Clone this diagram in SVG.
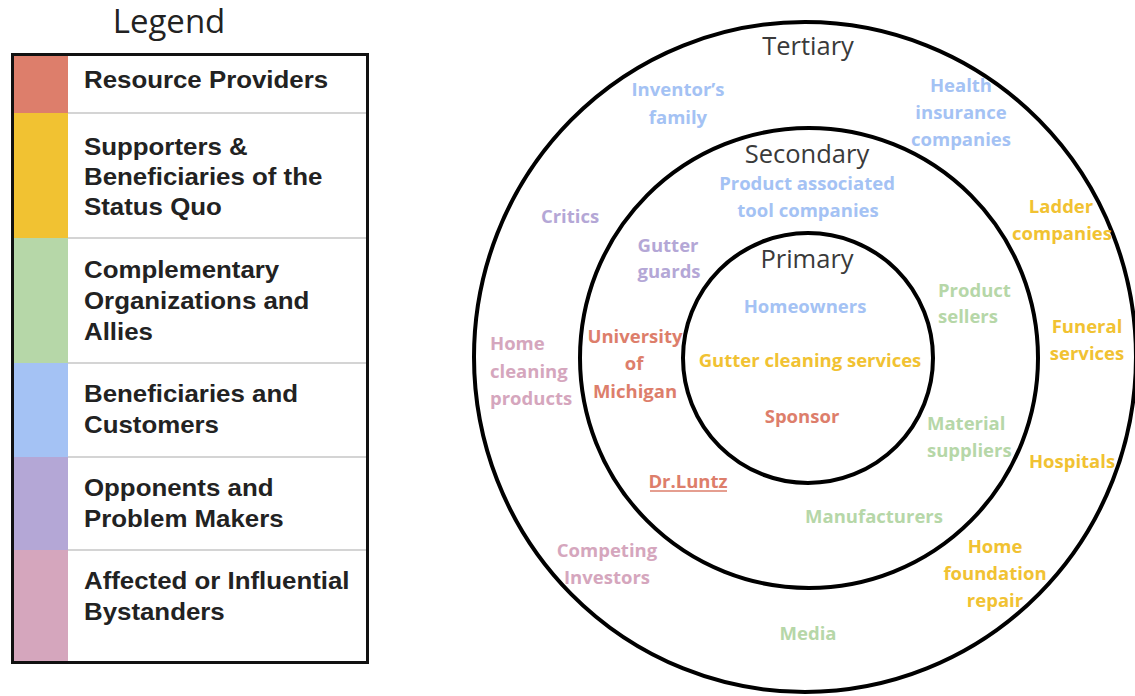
<svg xmlns="http://www.w3.org/2000/svg" width="1135" height="696" viewBox="0 0 1135 696">
  <style>
    .legend-title { font-family: "Open Sans", "Liberation Sans", sans-serif; font-size: 33px; fill: #222; }
    .legend-text { font-family: "Liberation Sans", Arial, sans-serif; font-weight: bold; font-size: 23.5px; fill: #222; }
    .divider { stroke: #d4d4d4; stroke-width: 2; }
    .ring { fill: none; stroke: #000; stroke-width: 4; }
    .ring-title { font-family: "Open Sans", "Liberation Sans", sans-serif; font-size: 25.5px; fill: #3a3a3a; text-anchor: middle; }
    .lbl { font-family: "Open Sans", "Liberation Sans", sans-serif; font-weight: bold; font-size: 18.5px; text-anchor: middle; }
    .left { text-anchor: start; }
    .red { fill: #dd7e6b; }
    .yellow { fill: #f1c232; }
    .green { fill: #b6d7a8; }
    .blue { fill: #a4c2f4; }
    .purple { fill: #b4a7d6; }
    .pink { fill: #d5a6bd; }
  </style>

  <rect width="1135" height="696" fill="#fff"/>

  <!-- Legend -->
  <g id="legend">
    <text class="legend-title" x="169" y="33" text-anchor="middle">Legend</text>
    <rect x="14" y="55" width="54" height="58" fill="#dd7e6b"/>
    <rect x="14" y="113" width="54" height="125" fill="#f1c232"/>
    <rect x="14" y="238" width="54" height="125" fill="#b6d7a8"/>
    <rect x="14" y="363" width="54" height="94" fill="#a4c2f4"/>
    <rect x="14" y="457" width="54" height="93" fill="#b4a7d6"/>
    <rect x="14" y="550" width="54" height="112" fill="#d5a6bd"/>
    <line class="divider" x1="68" y1="113" x2="366" y2="113"/>
    <line class="divider" x1="68" y1="238" x2="366" y2="238"/>
    <line class="divider" x1="68" y1="363" x2="366" y2="363"/>
    <line class="divider" x1="68" y1="457" x2="366" y2="457"/>
    <line class="divider" x1="68" y1="550" x2="366" y2="550"/>
    <rect x="12.5" y="54.5" width="355" height="608" fill="none" stroke="#111" stroke-width="3"/>
    <g transform="translate(84 0) scale(1.1 1)">
      <text class="legend-text" x="0" y="88">Resource Providers</text>
      <text class="legend-text" x="0" y="155">Supporters &amp;</text>
      <text class="legend-text" x="0" y="185">Beneficiaries of the</text>
      <text class="legend-text" x="0" y="215">Status Quo</text>
      <text class="legend-text" x="0" y="278">Complementary</text>
      <text class="legend-text" x="0" y="309">Organizations and</text>
      <text class="legend-text" x="0" y="340">Allies</text>
      <text class="legend-text" x="0" y="402">Beneficiaries and</text>
      <text class="legend-text" x="0" y="433">Customers</text>
      <text class="legend-text" x="0" y="496">Opponents and</text>
      <text class="legend-text" x="0" y="527">Problem Makers</text>
      <text class="legend-text" x="0" y="589">Affected or Influential</text>
      <text class="legend-text" x="0" y="620">Bystanders</text>
    </g>
  </g>

  <!-- Concentric stakeholder rings -->
  <g id="rings">
    <ellipse id="ring-tertiary" class="ring" cx="805" cy="357" rx="331" ry="335"/>
    <ellipse id="ring-secondary" class="ring" cx="809" cy="358" rx="229" ry="230"/>
    <ellipse id="ring-primary" class="ring" cx="808" cy="358" rx="125" ry="125"/>
    <text class="ring-title" x="808" y="55">Tertiary</text>
    <text class="ring-title" x="807" y="163">Secondary</text>
    <text class="ring-title" x="807" y="268">Primary</text>
  </g>

  <!-- Tertiary ring stakeholders -->
  <g id="inventors-family"><text class="lbl blue" x="678" y="96">Inventor’s<tspan x="678" dy="28">family</tspan></text></g>
  <g id="health-insurance"><text class="lbl blue" x="961" y="92">Health<tspan x="961" dy="27">insurance</tspan><tspan x="961" dy="27">companies</tspan></text></g>
  <g id="critics"><text class="lbl purple" x="570" y="223">Critics</text></g>
  <g id="ladder-companies"><text class="lbl yellow" x="1061" y="213">Ladder<tspan x="1062" dy="27">companies</tspan></text></g>
  <g id="funeral-services"><text class="lbl yellow" x="1087" y="333">Funeral<tspan x="1087" dy="27">services</tspan></text></g>
  <g id="home-cleaning"><text class="lbl pink left" x="490" y="350">Home<tspan x="490" dy="28">cleaning</tspan><tspan x="490" dy="27">products</tspan></text></g>
  <g id="hospitals"><text class="lbl yellow" x="1072" y="468">Hospitals</text></g>
  <g id="home-foundation"><text class="lbl yellow" x="995" y="553">Home<tspan x="995" dy="27">foundation</tspan><tspan x="995" dy="27">repair</tspan></text></g>
  <g id="competing-investors"><text class="lbl pink" x="607" y="557">Competing<tspan x="607" dy="27">Investors</tspan></text></g>
  <g id="media"><text class="lbl green" x="808" y="640">Media</text></g>

  <!-- Secondary ring stakeholders -->
  <g id="tool-companies"><text class="lbl blue" x="807" y="190">Product associated<tspan x="808" dy="27">tool companies</tspan></text></g>
  <g id="gutter-guards"><text class="lbl purple" x="668" y="252">Gutter<tspan x="669" dy="26">guards</tspan></text></g>
  <g id="product-sellers"><text class="lbl green left" x="938" y="297">Product<tspan x="938" dy="26">sellers</tspan></text></g>
  <g id="university"><text class="lbl red" x="635" y="343">University<tspan x="634" dy="27">of</tspan><tspan x="635" dy="28">Michigan</tspan></text></g>
  <g id="material-suppliers"><text class="lbl green left" x="927" y="430">Material<tspan x="927" dy="27">suppliers</tspan></text></g>
  <g id="dr-luntz">
    <text class="lbl red" x="688" y="488">Dr.Luntz</text>
    <line x1="650" y1="491" x2="727" y2="491" stroke="#dd7e6b" stroke-width="1.5"/>
  </g>
  <g id="manufacturers"><text class="lbl green" x="874" y="523">Manufacturers</text></g>

  <!-- Primary ring stakeholders -->
  <g id="homeowners"><text class="lbl blue" x="805" y="313">Homeowners</text></g>
  <g id="gutter-cleaning"><text class="lbl yellow" x="810" y="367">Gutter cleaning services</text></g>
  <g id="sponsor"><text class="lbl red" x="802" y="423">Sponsor</text></g>
</svg>
